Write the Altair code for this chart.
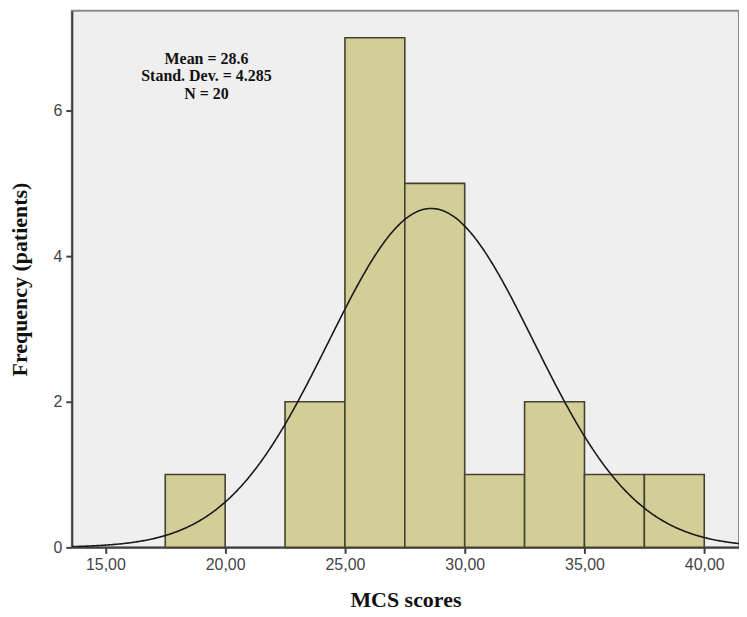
import altair as alt
import pandas as pd

# Histogram bins (MCS scores) and frequencies
bin_start = [17.5, 20.0, 22.5, 25.0, 27.5, 30.0, 32.5, 35.0, 37.5]
bin_end = [20.0, 22.5, 25.0, 27.5, 30.0, 32.5, 35.0, 37.5, 40.0]
counts = [1, 0, 2, 7, 5, 1, 2, 1, 1]

# Summary statistics shown on the chart
mean_val = 28.6
sd_val = 4.285
n_val = 20
bin_width = 2.5

x_ticks = [15, 20, 25, 30, 35, 40]
y_ticks = [0, 2, 4, 6]
stats_lines = ["Mean = 28.6", "Stand. Dev. = 4.285", "N = 20"]

x_domain = [13.6, 41.45]
y_domain = [0, 7.37]

bars_df = pd.DataFrame({"start": bin_start, "end": bin_end, "count": counts})
bars_df = bars_df[bars_df["count"] > 0]

xs = alt.Scale(domain=x_domain, nice=False, zero=False)
ys = alt.Scale(domain=y_domain, nice=False)

x_axis = alt.Axis(
    values=x_ticks,
    labelExpr="replace(format(datum.value, '.2f'), '.', ',')",
    title="MCS scores",
    grid=False,
)
y_axis = alt.Axis(values=y_ticks, format="d", title="Frequency (patients)", grid=False)

bars = alt.Chart(bars_df).mark_rect(
    fill="#d3ce97", stroke="#45432f", strokeWidth=1.6
).encode(
    x=alt.X("start:Q", scale=xs, axis=x_axis),
    x2="end:Q",
    y=alt.Y("count:Q", scale=ys, axis=y_axis),
    y2=alt.datum(0),
)

amp = n_val * bin_width / (sd_val * (2 * 3.141592653589793) ** 0.5)
curve = alt.Chart(alt.sequence(x_domain[0], x_domain[1] + 0.01, 0.05, as_="x")).transform_calculate(
    y=f"{amp} * exp(-0.5 * pow((datum.x - {mean_val}) / {sd_val}, 2))"
).mark_line(color="#1a1a1a", strokeWidth=1.6, clip=True).encode(
    x=alt.X("x:Q", scale=xs, axis=x_axis),
    y=alt.Y("y:Q", scale=ys, axis=y_axis),
)

stats_df = pd.DataFrame({"label": ["\n".join(stats_lines)]})
stats = alt.Chart(stats_df).mark_text(
    font="Liberation Serif", fontWeight="bold", fontSize=16, color="#111",
    align="center", baseline="middle", lineBreak="\n", lineHeight=17.5,
).encode(
    x=alt.value(135),
    y=alt.value(48),
    text="label:N",
)

chart = alt.layer(bars, curve, stats).properties(
    width=669,
    height=538,
    autosize=alt.AutoSizeParams(type="none"),
    padding={"left": 64, "top": 2, "right": 0, "bottom": 68},
    background="white",
).configure_view(
    fill="#efefef", stroke="#8a8a8a", strokeWidth=2
).configure_axis(
    domainColor="#404040", domainWidth=2, tickColor="#404040", tickWidth=2, tickSize=6,
    labelFont="Liberation Sans", labelFontSize=16, labelColor="#444",
    titleFont="Liberation Serif", titleFontSize=22, titleFontWeight="bold", titleColor="#111",
).configure_axisX(
    labelPadding=3, titlePadding=17
).configure_axisY(
    labelPadding=4, titlePadding=22
)

chart.save("out.html", embed_options={"renderer": "svg", "actions": False})
